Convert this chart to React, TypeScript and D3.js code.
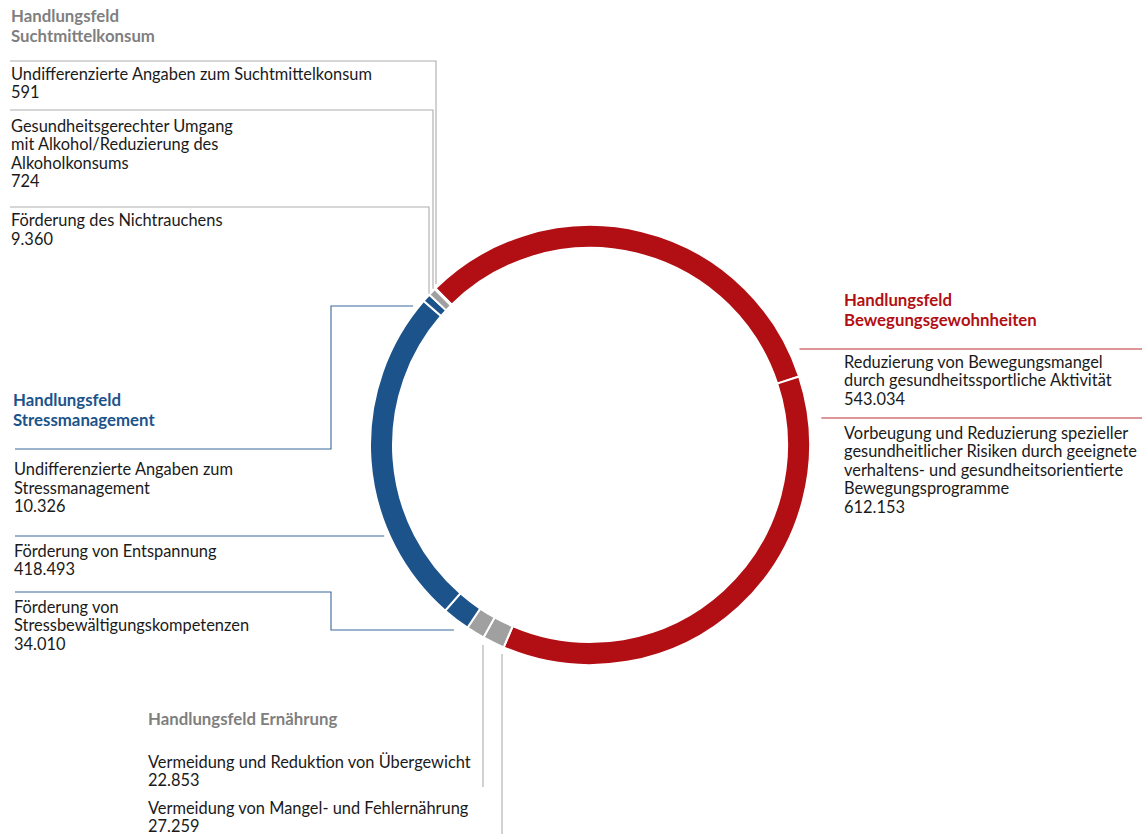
import React from "react";
import * as d3 from "d3";

// ---------- data ----------
const fieldNames = ["Bewegungsgewohnheiten", "Ernährung", "Stressmanagement", "Suchtmittelkonsum"];
const fieldColors = ["#b20f14", "#a0a0a0", "#1c538b", "#a0a0a0"];
const fieldTitleColors = ["#b20f14", "#7f7f7f", "#1c538b", "#7f7f7f"];

const segmentNames = [
  "Reduzierung von Bewegungsmangel durch gesundheitssportliche Aktivität",
  "Vorbeugung und Reduzierung spezieller gesundheitlicher Risiken durch geeignete verhaltens- und gesundheitsorientierte Bewegungsprogramme",
  "Vermeidung von Mangel- und Fehlernährung",
  "Vermeidung und Reduktion von Übergewicht",
  "Förderung von Stressbewältigungskompetenzen",
  "Förderung von Entspannung",
  "Undifferenzierte Angaben zum Stressmanagement",
  "Förderung des Nichtrauchens",
  "Gesundheitsgerechter Umgang mit Alkohol/Reduzierung des Alkoholkonsums",
  "Undifferenzierte Angaben zum Suchtmittelkonsum",
];
const segmentValues = [543034, 612153, 27259, 22853, 34010, 418493, 10326, 9360, 724, 591];
const segmentField = [0, 0, 1, 1, 2, 2, 2, 3, 3, 3];
const valueLabels = ["543.034", "612.153", "27.259", "22.853", "34.010", "418.493", "10.326", "9.360", "724", "591"];

// ---------- layout ----------
const W = 1144;
const H = 834;
const CX = 590;
const CY = 445;
const R_OUT = 220;
const R_IN = 197;
const START_DEG = -44.6;
const FONT = "Lato, 'Open Sans', sans-serif";
const FS = 16.4;
const FS_TITLE = 16.8;
const LH = 18.6;

type Label = {
  seg: number;
  x: number;
  y: number; // first baseline
  lines: string[];
};

const labels: Label[] = [
  { seg: 9, x: 11, y: 79.5, lines: ["Undifferenzierte Angaben zum Suchtmittelkonsum"] },
  { seg: 8, x: 11, y: 131.5, lines: ["Gesundheitsgerechter Umgang", "mit Alkohol/Reduzierung des", "Alkoholkonsums"] },
  { seg: 7, x: 11, y: 226, lines: ["Förderung des Nichtrauchens"] },
  { seg: 6, x: 14, y: 475, lines: ["Undifferenzierte Angaben zum", "Stressmanagement"] },
  { seg: 5, x: 14, y: 556.5, lines: ["Förderung von Entspannung"] },
  { seg: 4, x: 14, y: 612.5, lines: ["Förderung von", "Stressbewältigungskompetenzen"] },
  { seg: 3, x: 148, y: 767.5, lines: ["Vermeidung und Reduktion von Übergewicht"] },
  { seg: 2, x: 148, y: 813.5, lines: ["Vermeidung von Mangel- und Fehlernährung"] },
  { seg: 0, x: 844, y: 367.5, lines: ["Reduzierung von Bewegungsmangel", "durch gesundheitssportliche Aktivität"] },
  { seg: 1, x: 844, y: 438.5, lines: ["Vorbeugung und Reduzierung spezieller", "gesundheitlicher Risiken durch geeignete", "verhaltens- und gesundheitsorientierte", "Bewegungsprogramme"] },
];

const titles = [
  { field: 3, x: 11, y: 22, lines: ["Handlungsfeld", "Suchtmittelkonsum"] },
  { field: 2, x: 13, y: 406, lines: ["Handlungsfeld", "Stressmanagement"] },
  { field: 1, x: 148, y: 725, lines: ["Handlungsfeld Ernährung"] },
  { field: 0, x: 844, y: 306, lines: ["Handlungsfeld", "Bewegungsgewohnheiten"] },
];

// ring helpers
const GAP = 5;
const ringXLeft = (y: number) => CX - Math.sqrt((R_OUT + GAP) ** 2 - (y - CY) ** 2);
const ringXRight = (y: number) => CX + Math.sqrt((R_OUT + GAP) ** 2 - (y - CY) ** 2);
const ringYTop = (x: number) => CY - Math.sqrt((R_OUT + GAP) ** 2 - (x - CX) ** 2);
const ringYBottom = (x: number) => CY + Math.sqrt((R_OUT + GAP) ** 2 - (x - CX) ** 2);

// leader polylines (by segment)
const leaders: { seg: number; pts: [number, number][] }[] = [
  { seg: 9, pts: [[10, 61], [436, 61], [436, ringYTop(436) + 3]] },
  { seg: 8, pts: [[10, 110], [433, 110], [433, ringYTop(433) + 5]] },
  { seg: 7, pts: [[10, 207], [429, 207], [429, ringYTop(429) + 6]] },
  { seg: 6, pts: [[15, 449], [331, 449], [331, 306], [ringXLeft(306), 306]] },
  { seg: 5, pts: [[15, 536], [ringXLeft(536), 536]] },
  { seg: 4, pts: [[15, 592], [331, 592], [331, 630], [ringXLeft(630) - 8, 630]] },
  { seg: 3, pts: [[483, ringYBottom(483) + 2], [483, 787]] },
  { seg: 2, pts: [[502, ringYBottom(502) + 2], [502, 834]] },
  { seg: 0, pts: [[ringXRight(349) + 6, 349], [1142, 349]] },
  { seg: 1, pts: [[ringXRight(418) + 8, 418], [1142, 418]] },
];

export default function App() {
  const pie = d3
    .pie<number>()
    .sort(null)
    .value((d) => d)
    .startAngle((START_DEG * Math.PI) / 180)
    .endAngle((START_DEG * Math.PI) / 180 + 2 * Math.PI);
  const arcs = pie(segmentValues);
  const arcGen = d3.arc<d3.PieArcDatum<number>>().innerRadius(R_IN).outerRadius(R_OUT);
  const line = d3.line<[number, number]>();

  return (
    <svg
      width={W}
      height={H}
      style={{ position: "absolute", left: 0, top: 0, background: "#fff" }}
      fontFamily={FONT}
    >
      <g transform={`translate(${CX},${CY})`}>
        {arcs.map((a, i) => (
          <path
            key={i}
            d={arcGen(a) || ""}
            fill={fieldColors[segmentField[i]]}
            stroke="#fff"
            strokeWidth={2}
          >
            <title>{`${segmentNames[i]}: ${valueLabels[i]}`}</title>
          </path>
        ))}
      </g>
      {leaders.map((l, i) => (
        <path
          key={i}
          d={line(l.pts) || ""}
          fill="none"
          stroke={fieldColors[segmentField[l.seg]]}
          strokeOpacity={0.88}
          strokeWidth={1.1}
        />
      ))}
      {titles.map((t, i) => (
        <text key={i} x={t.x} y={t.y} fontSize={FS_TITLE} fontWeight={700} fill={fieldTitleColors[t.field]}>
          {t.lines.map((ln, j) => (
            <tspan key={j} x={t.x} y={t.y + j * 19.5}>
              {ln}
            </tspan>
          ))}
        </text>
      ))}
      {labels.map((l, i) => (
        <text key={i} x={l.x} y={l.y} fontSize={FS} fill="#1a1a1a">
          {[...l.lines, valueLabels[l.seg]].map((ln, j) => (
            <tspan key={j} x={l.x} y={l.y + j * (l.seg === 2 ? 18 : LH)}>
              {ln}
            </tspan>
          ))}
        </text>
      ))}
    </svg>
  );
}
